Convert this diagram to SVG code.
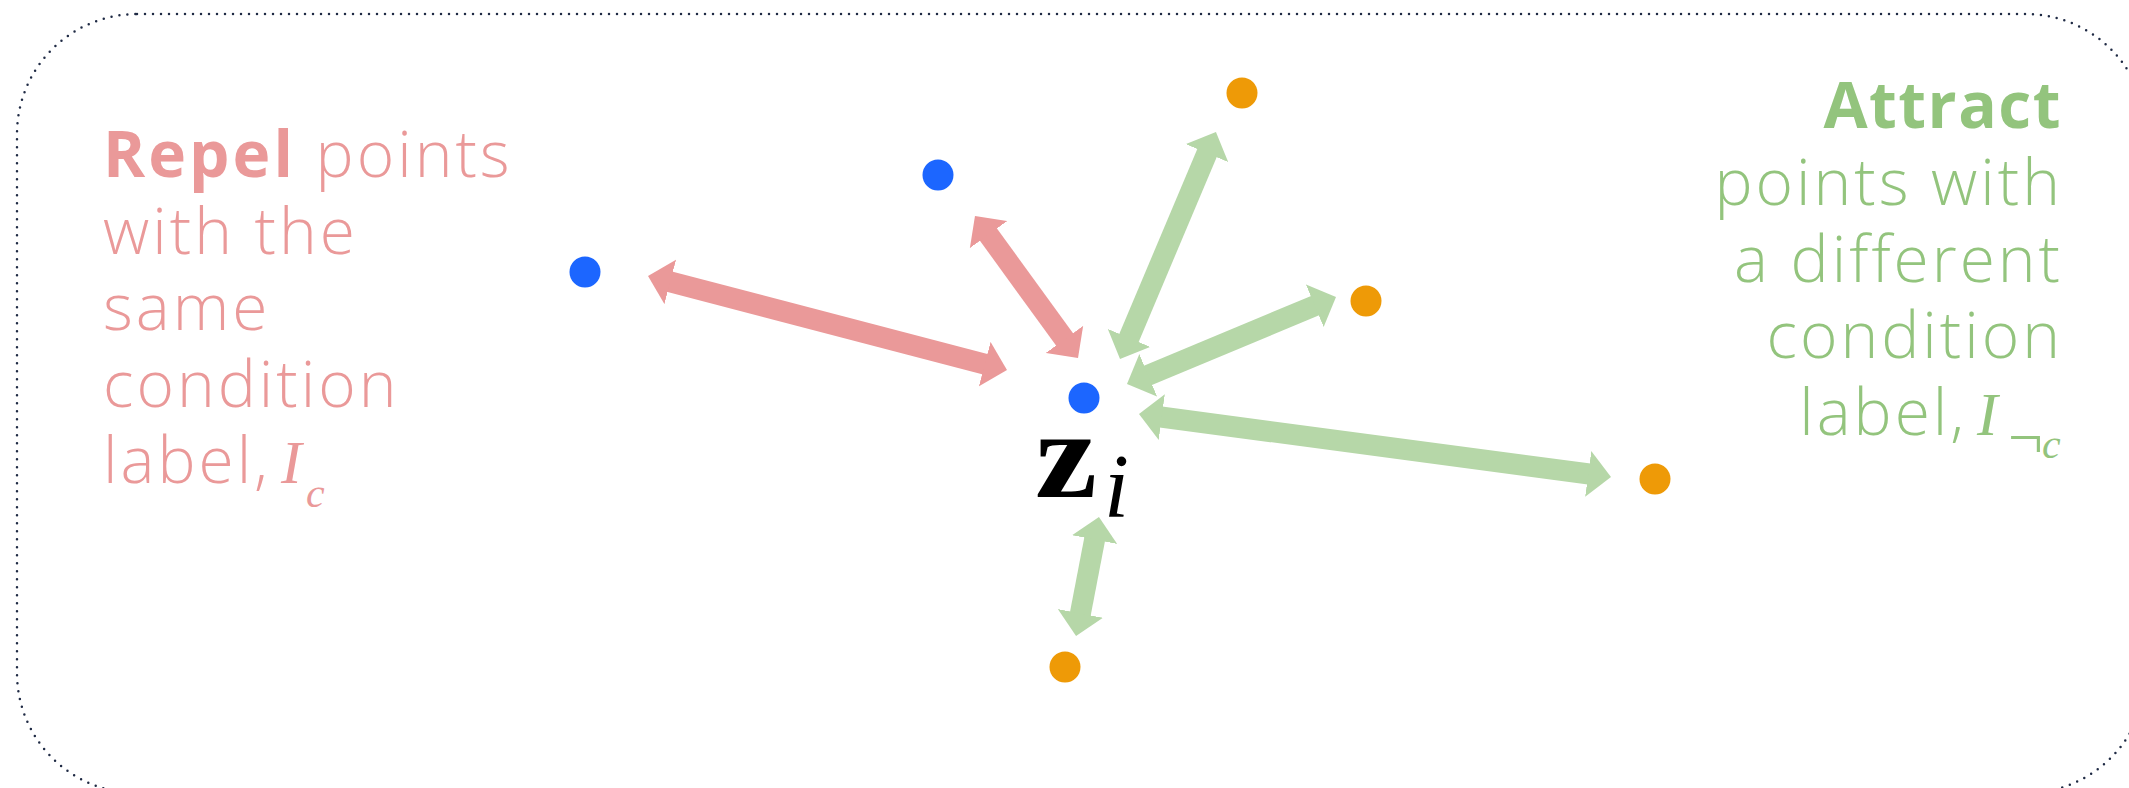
<svg xmlns="http://www.w3.org/2000/svg" width="2129" height="788" viewBox="0 0 2129 788">
<style>
.lbl{font-family:"Open Sans","Lato","Liberation Sans",sans-serif;font-weight:300;font-size:64px;letter-spacing:3px}
.b{font-weight:700}
.pink{fill:#EA9999}
.green{fill:#93C47D}
.math{font-family:"Liberation Serif","DejaVu Serif",serif;letter-spacing:0}
.it{font-style:italic}
.blue{fill:#1C66FF}
.orange{fill:#EE9A07}
.ar{fill:none;stroke-width:21}
.ar.r{stroke:#EA9999;marker-start:url(#hr);marker-end:url(#hr)}
.ar.g{stroke:#B6D7A8;marker-start:url(#hg);marker-end:url(#hg)}
</style>
<defs>
<marker id="hr" viewBox="0 0 23 46" markerUnits="userSpaceOnUse" markerWidth="23" markerHeight="46" refX="1" refY="23" orient="auto-start-reverse"><path d="M0,0 L23,23 L0,46 Z" fill="#EA9999"/></marker>
<marker id="hg" viewBox="0 0 23 46" markerUnits="userSpaceOnUse" markerWidth="23" markerHeight="46" refX="1" refY="23" orient="auto-start-reverse"><path d="M0,0 L23,23 L0,46 Z" fill="#B6D7A8"/></marker>
</defs>
<rect width="2129" height="788" fill="#FFFFFF"/>
<rect id="frame" x="17" y="14" width="2129" height="779" rx="120" ry="120" fill="none" stroke="#1F2A44" stroke-width="2.5" stroke-dasharray="0 8" stroke-linecap="round"/>
<g id="connectors">
<line class="ar r" x1="669.3" y1="281.6" x2="985.7" y2="364.4"/>
<line class="ar r" x1="987.9" y1="233.8" x2="1065.1" y2="340.2"/>
<line class="ar g" x1="1207.4" y1="152.2" x2="1128.6" y2="338.8"/>
<line class="ar g" x1="1315.7" y1="305.4" x2="1147.3" y2="375.6"/>
<line class="ar g" x1="1589.2" y1="474.0" x2="1160.8" y2="417.0"/>
<line class="ar g" x1="1094.8" y1="538.6" x2="1080.2" y2="614.4"/>
</g>
<g id="same1"><circle class="blue" cx="585" cy="272" r="15.5"/></g>
<g id="same2"><circle class="blue" cx="938" cy="175" r="15.5"/></g>
<g id="zi">
<circle class="blue" cx="1084" cy="398" r="15.5"/>
<text class="math" transform="translate(1035,497) scale(1.12,1)" x="0" y="0" font-size="125" font-weight="700" fill="#000">z</text>
<text class="math it" x="1104" y="517" font-size="90" fill="#000">i</text>
</g>
<g id="diff1"><circle class="orange" cx="1242" cy="93" r="15.5"/></g>
<g id="diff2"><circle class="orange" cx="1366" cy="301" r="15.5"/></g>
<g id="diff3"><circle class="orange" cx="1655" cy="479" r="15.5"/></g>
<g id="diff4"><circle class="orange" cx="1065" cy="667" r="15.5"/></g>
<g id="repel-label">
<text class="lbl pink"><tspan x="103" y="177"><tspan class="b">Repel</tspan> points</tspan><tspan x="103" y="254">with the</tspan><tspan x="103" y="330">same</tspan><tspan x="103" y="407">condition</tspan><tspan x="103" y="483">label,</tspan><tspan class="math it" x="281" y="483" font-size="62">I</tspan><tspan class="math it" x="306" y="507" font-size="42">c</tspan></text>
</g>
<g id="attract-label">
<text class="lbl green" text-anchor="end"><tspan class="b" x="2062" y="128" style="letter-spacing:1.5px">Attract</tspan><tspan x="2063" y="205">points with</tspan><tspan x="2063" y="282">a different</tspan><tspan x="2063" y="358">condition</tspan><tspan x="1967" y="435">label,</tspan></text>
<text class="math green"><tspan class="it" x="1977" y="435" font-size="62">I</tspan><tspan x="2008" y="458" font-size="62">¬</tspan><tspan class="it" x="2042" y="458" font-size="42">c</tspan></text>
</g>
</svg>
